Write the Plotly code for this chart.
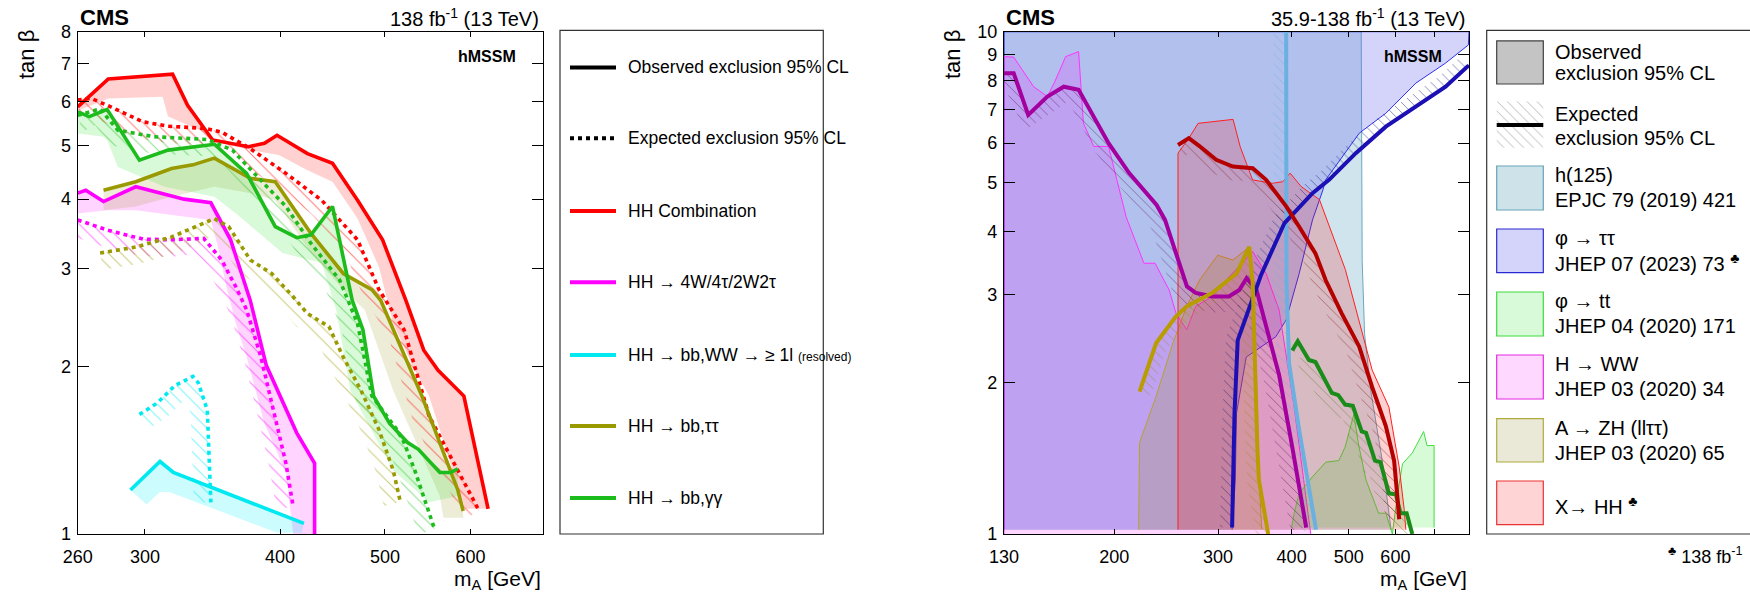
import numpy as np
import plotly.graph_objects as go

W, H = 1750, 594

# ============ LEFT PANEL DATA (HH channels, hMSSM) ============
hh_comb_obs_x = [260, 277.5, 318.2, 328.5, 346.5, 373.9, 386.9, 397.4, 424, 447.2, 471.7, 497.5, 522.8, 543.1, 559.9, 591.5, 622.8]
hh_comb_obs_y = [5.86, 6.58, 6.71, 5.90, 5.11, 4.97, 5.04, 5.21, 4.83, 4.64, 3.98, 3.38, 2.63, 2.14, 1.97, 1.77, 1.11]
hh_comb_band_x = [260, 277.5, 311.5, 315.1, 337.4, 353.2, 375.4, 398.9, 424, 447.2, 471.7, 493.7, 509, 532.9, 549.3, 592.9]
hh_comb_band_y = [5.77, 6.07, 6.11, 5.63, 5.32, 5.04, 4.90, 4.80, 4.51, 4.30, 3.69, 3.02, 2.39, 1.97, 1.77, 1.11]
hh_comb_exp_x = [260, 267.5, 276.8, 298.7, 315.1, 341.3, 353.2, 375.4, 405, 437.1, 471.7, 493.7, 520.8, 549.3, 592.9, 611.1]
hh_comb_exp_y = [6.03, 6.07, 5.90, 5.51, 5.41, 5.36, 5.28, 4.93, 4.45, 3.98, 3.38, 2.75, 2.33, 1.63, 1.23, 1.10]

multi_obs_x = [260, 264.5, 274.7, 294.2, 326.1, 345.2, 360, 375.4, 388.4, 414.4, 430.5, 430.5]
multi_obs_y = [4.10, 4.15, 3.96, 4.21, 4.00, 3.94, 3.38, 2.63, 2.01, 1.52, 1.34, 1.0]
multi_band_x = [260, 276.8, 294.2, 345.2, 350.2, 357.3, 364.1, 372.5, 386.9, 405, 411.3]
multi_band_y = [3.77, 3.82, 3.82, 3.67, 3.30, 2.75, 2.39, 2.08, 1.58, 1.29, 1.0]
multi_exp_x = [260, 276.8, 298.7, 317.5, 340, 353.2, 364.1, 372.5, 384, 395.9, 405, 411.3]
multi_exp_y = [3.67, 3.52, 3.39, 3.38, 3.40, 3.11, 2.78, 2.53, 2.08, 1.63, 1.34, 1.12]

bbww_obs_x = [290.9, 309.8, 318.7, 420.8]
bbww_obs_y = [1.20, 1.35, 1.29, 1.045]
bbww_band_x = [290.9, 301, 309.8, 316, 397.5, 419]
bbww_band_y = [1.20, 1.13, 1.19, 1.19, 1.005, 1.005]
bbww_exp_x = [296.5, 308, 319.9, 332.3, 336.1, 342.6, 345.2]
bbww_exp_y = [1.64, 1.72, 1.85, 1.92, 1.87, 1.67, 1.14]

bbtt_obs_x = [274.7, 294.2, 317.5, 332.3, 347.8, 375.4, 395.9, 427.2, 457.6, 486.3, 495.6, 541, 583.9, 590.6]
bbtt_obs_y = [4.15, 4.30, 4.54, 4.61, 4.74, 4.36, 4.30, 3.47, 2.94, 2.75, 2.63, 1.77, 1.20, 1.10]
bbtt_band_x = [274.7, 294.2, 317.5, 347.8, 375.4, 395.9, 427.2, 457.6, 478.9, 509, 562, 566.3, 590.6]
bbtt_band_y = [3.82, 3.88, 4.04, 4.21, 4.10, 3.98, 3.20, 2.75, 2.53, 1.81, 1.17, 1.07, 1.07]
bbtt_exp_x = [272.7, 294.2, 317.5, 333.6, 347.8, 358.6, 375.4, 392.9, 411.3, 424, 443.8, 457.6, 475.3, 493.7, 509, 516.8]
bbtt_exp_y = [3.20, 3.28, 3.42, 3.57, 3.69, 3.57, 3.11, 2.94, 2.67, 2.49, 2.36, 2.08, 1.81, 1.54, 1.30, 1.14]

bbgg_obs_x = [260, 266.5, 276.8, 296.5, 315.1, 347.8, 372.5, 395.9, 414.4, 427.2, 447.2, 466.4, 477.1, 488.1, 505, 524.8, 536.9, 562, 575, 583.9]
bbgg_obs_y = [5.74, 5.63, 5.80, 4.70, 4.90, 5.02, 4.45, 3.57, 3.41, 3.45, 3.88, 2.63, 2.33, 1.77, 1.58, 1.46, 1.42, 1.29, 1.29, 1.31]
bbgg_band_x = [260, 274.7, 276.8, 283.2, 312.7, 347.8, 364.1, 402, 437.1, 450.7, 464.6, 509, 549.3, 583.9]
bbgg_band_y = [5.25, 5.18, 5.11, 4.57, 4.21, 4.04, 3.77, 3.20, 3.07, 2.53, 1.81, 1.30, 1.14, 1.17]
bbgg_exp_x = [260, 272.7, 283.2, 305.6, 342.6, 361.4, 381.1, 405, 427.2, 454.1, 471.7, 486.3, 513, 520.8, 532.9, 545.3, 555.8]
bbgg_exp_y = [5.66, 5.81, 5.32, 5.18, 5.12, 4.90, 4.39, 3.88, 3.33, 2.86, 2.39, 1.77, 1.54, 1.46, 1.30, 1.14, 1.02]

# ============ RIGHT PANEL DATA (summary) ============
h125_obs_x = [130, 130, 525, 527, 532, 545, 570, 590]
h125_obs_y = [1.02, 10, 10, 3.5, 2.5, 1.93, 1.4, 1.02]
h125_exp_x = [391.6, 392, 396, 412, 440]
h125_exp_y = [10, 3.2, 2.19, 1.61, 1.02]

phitt_tau_obs_x = [130, 130, 800, 800, 798, 730, 650, 578, 521, 457, 452, 434, 412, 391.6, 376, 335, 322.5, 321, 317]
phitt_tau_obs_y = [1.02, 10, 10, 9.5, 9.41, 8.66, 7.9, 6.88, 6.28, 5.07, 4.84, 4.22, 3.30, 2.67, 2.47, 2.25, 1.74, 1.28, 1.02]
phitt_tau_exp_x = [317, 320, 324, 337, 355, 389, 434, 463, 514, 578, 650, 730, 795, 800]
phitt_tau_exp_y = [1.03, 1.74, 2.43, 2.75, 3.28, 4.16, 4.77, 5.07, 5.73, 6.47, 7.09, 7.77, 8.52, 8.56]

hww_obs_x = [130, 130, 135, 146, 154, 158.6, 165.4, 174, 177.3, 184.6, 195.6, 209.5, 224.6, 234.6, 247.9, 254.6, 265.5, 275, 293.5, 313, 330, 343.6, 362, 381, 404, 431]
hww_obs_y = [1.0, 8.92, 8.9, 7.77, 7.43, 7.96, 8.92, 9.13, 6.58, 5.91, 5.91, 4.28, 3.46, 3.46, 3.06, 2.75, 2.55, 2.84, 2.97, 3.25, 3.46, 3.65, 3.30, 2.79, 1.79, 1.0]
hww_exp_x = [130, 135, 142.9, 154, 164.2, 174, 195.6, 212, 236, 243.9, 265.7, 275, 293.5, 313, 326, 335.5, 348.7, 362, 381, 401, 423.5]
hww_exp_y = [8.27, 8.27, 6.83, 7.43, 7.77, 7.66, 6.0, 5.23, 4.52, 4.22, 3.11, 3.02, 2.97, 2.97, 3.06, 3.23, 3.06, 2.59, 2.07, 1.49, 1.03]

azh_obs_x = [220, 220.8, 235.6, 251.5, 265.5, 279, 299.7, 318, 339, 343.6, 350, 356]
azh_obs_y = [1.02, 1.52, 1.88, 2.40, 2.84, 3.20, 3.59, 3.51, 3.73, 3.15, 1.47, 1.02]
azh_exp_x = [220.8, 235.6, 254.4, 265.5, 293.5, 322.5, 339, 343.6, 350, 352, 365]
azh_exp_y = [1.92, 2.40, 2.71, 2.84, 3.02, 3.30, 3.73, 3.15, 1.47, 1.28, 1.0]

phitop_obs_x = [400, 404, 412, 434, 457, 481, 493, 510, 520, 535, 562, 578, 593, 605, 617, 641, 670, 679, 698, 698]
phitop_obs_y = [1.03, 1.10, 1.205, 1.30, 1.39, 1.40, 1.49, 1.73, 1.50, 1.28, 1.10, 1.10, 1.0, 1.2, 1.38, 1.45, 1.60, 1.50, 1.50, 1.03]
phitop_exp_x = [401, 409.7, 428, 439, 468, 480, 493, 508, 526, 535, 554, 566, 585, 601, 612, 627, 641]
phitop_exp_y = [2.32, 2.42, 2.22, 2.20, 1.91, 1.89, 1.81, 1.80, 1.60, 1.59, 1.40, 1.39, 1.205, 1.20, 1.10, 1.10, 1.0]

xhh_obs_x = [256.6, 256.6, 267.7, 277.6, 318.2, 327.2, 343.4, 370.8, 386.7, 397.6, 415, 446, 493.5, 517, 548, 585, 609, 621, 625]
xhh_obs_y = [1.02, 5.73, 6.14, 6.57, 6.69, 5.90, 5.07, 4.99, 5.03, 5.23, 4.92, 4.63, 3.36, 2.75, 2.12, 1.79, 1.36, 1.12, 1.02]
xhh_exp_x = [256.6, 267.7, 279, 297.9, 318, 343.6, 362, 391.6, 412, 439, 457, 486.4, 521, 548, 578, 597, 604, 609]
xhh_exp_y = [5.95, 6.14, 5.92, 5.56, 5.39, 5.35, 5.07, 4.49, 4.09, 3.62, 3.20, 2.75, 2.36, 1.96, 1.64, 1.40, 1.205, 1.07]

# tick labels
left_xticks = [260, 300, 400, 500, 600]
left_yticks = [1, 2, 3, 4, 5, 6, 7, 8]
right_xticks = [130, 200, 300, 400, 500, 600, 700]
right_xticklabels = ["130", "200", "300", "400", "500", "600", " "]
right_yticks = [1, 2, 3, 4, 5, 6, 7, 8, 9, 10]

# ============ GEOMETRY (pixels) ============
L_X0, L_X1 = 77.7, 543.0
R_X0, R_X1 = 1004.0, 1469.0
PY_TOP, PY_BOT = 31.7, 534.0
L_XR, L_YR = (260, 700), (1, 8)
R_XR, R_YR = (130, 800), (1, 10)
kxL = (L_X1 - L_X0) / np.log(L_XR[1] / L_XR[0])
kyL = (PY_BOT - PY_TOP) / np.log(L_YR[1] / L_YR[0])
kxR = (R_X1 - R_X0) / np.log(R_XR[1] / R_XR[0])
kyR = (PY_BOT - PY_TOP) / np.log(R_YR[1] / R_YR[0])

FONT = "Liberation Sans, Arial, Helvetica, sans-serif"


def hatch_poly(xs, ys, kx, ky, d, side):
    xs = np.asarray(xs, float)
    ys = np.asarray(ys, float)
    u = kx * np.log(xs)
    v = ky * np.log(ys)
    n = len(u)
    nu = np.zeros(n)
    nv = np.zeros(n)
    for i in range(n):
        ax = ay = 0.0
        for a, b in ((i - 1, i), (i, i + 1)):
            if a < 0 or b >= n:
                continue
            du, dv = u[b] - u[a], v[b] - v[a]
            ln = np.hypot(du, dv)
            if ln == 0:
                continue
            ax += side * (-dv) / ln
            ay += side * du / ln
        m = np.hypot(ax, ay) or 1.0
        nu[i], nv[i] = ax / m, ay / m
    x2 = np.exp((u + d * nu) / kx)
    y2 = np.exp((v + d * nv) / ky)
    return list(xs) + list(x2[::-1]), list(ys) + list(y2[::-1])


fig = go.Figure()


def add_fill(xs, ys, color, xa, ya, line=None):
    fig.add_trace(go.Scatter(x=xs, y=ys, mode="lines", fill="toself", fillcolor=color,
                             line=dict(width=line[1] if line else 0, color=line[0] if line else "rgba(0,0,0,0)"),
                             hoverinfo="skip", xaxis=xa, yaxis=ya))


def add_hatch(xs, ys, kx, ky, d, side, color, xa, ya, size=8, sol=0.13):
    px_, py_ = hatch_poly(xs, ys, kx, ky, d, side)
    fig.add_trace(go.Scatter(x=px_, y=py_, mode="lines", fill="toself", fillcolor="rgba(0,0,0,0)",
                             line=dict(width=0, color="rgba(0,0,0,0)"),
                             fillpattern=dict(shape="\\", fgcolor=color, bgcolor="rgba(0,0,0,0)", size=size, solidity=sol),
                             hoverinfo="skip", xaxis=xa, yaxis=ya))


def add_line(xs, ys, color, width, xa, ya, dash="solid"):
    fig.add_trace(go.Scatter(x=xs, y=ys, mode="lines", line=dict(color=color, width=width, dash=dash),
                             hoverinfo="skip", xaxis=xa, yaxis=ya))


# ---------------- LEFT PANEL ----------------
left = [
    (hh_comb_obs_x, hh_comb_obs_y, hh_comb_band_x, hh_comb_band_y, hh_comb_exp_x, hh_comb_exp_y, "#ff0000", "rgba(255,0,0,0.18)"),
    (multi_obs_x, multi_obs_y, multi_band_x, multi_band_y, multi_exp_x, multi_exp_y, "#ff00ff", "rgba(255,0,255,0.17)"),
    (bbww_obs_x, bbww_obs_y, bbww_band_x, bbww_band_y, bbww_exp_x, bbww_exp_y, "#00e8f0", "rgba(0,240,250,0.2)"),
    (bbtt_obs_x, bbtt_obs_y, bbtt_band_x, bbtt_band_y, bbtt_exp_x, bbtt_exp_y, "#999900", "rgba(150,140,20,0.17)"),
    (bbgg_obs_x, bbgg_obs_y, bbgg_band_x, bbgg_band_y, bbgg_exp_x, bbgg_exp_y, "#1cbc1c", "rgba(0,220,0,0.15)"),
]
for ox, oy, bx, by, ex, ey, lc, bc in left:
    add_fill(list(ox) + list(bx[::-1]), list(oy) + list(by[::-1]), bc, "x", "y")
for ox, oy, bx, by, ex, ey, lc, bc in left:
    add_hatch(ex, ey, kxL, kyL, 17, -1, lc, "x", "y", size=9, sol=0.12)
for ox, oy, bx, by, ex, ey, lc, bc in left:
    add_line(ex, ey, lc, 3.6, "x", "y", dash="4px,4px")
    add_line(ox, oy, lc, 3.6, "x", "y")

# ---------------- RIGHT PANEL ----------------
add_fill(h125_obs_x, h125_obs_y, "rgba(150,196,214,0.45)", "x2", "y2", ("#6aa8c0", 1))
add_fill(phitt_tau_obs_x, phitt_tau_obs_y, "rgba(100,100,240,0.28)", "x2", "y2", ("#3030ee", 1))
add_fill(hww_obs_x, hww_obs_y, "rgba(255,0,255,0.16)", "x2", "y2", ("#ff33ff", 1))
add_fill(azh_obs_x, azh_obs_y, "rgba(160,150,40,0.22)", "x2", "y2", ("#b8a030", 1))
add_fill(phitop_obs_x, phitop_obs_y, "rgba(0,230,0,0.16)", "x2", "y2", ("#44dd44", 1))
add_fill(xhh_obs_x, xhh_obs_y, "rgba(255,0,0,0.18)", "x2", "y2", ("#ff2020", 1))

right_exp = [
    (h125_exp_x, h125_exp_y, -1, "#6ab0e0", "#6ab0e0", 13),
    (hww_exp_x, hww_exp_y, -1, "#a3009f", "#5a2060", 16),
    (phitt_tau_exp_x, phitt_tau_exp_y, +1, "#1c0fb4", "#1a1a70", 12),
    (azh_exp_x, azh_exp_y, -1, "#b89c00", "#9a8a10", 12),
    (phitop_exp_x, phitop_exp_y, -1, "#1a8c1a", "#607a30", 16),
    (xhh_exp_x, xhh_exp_y, -1, "#b50000", "#802020", 14),
]
for ex, ey, side, lc, hc, d in right_exp:
    add_hatch(ex, ey, kxR, kyR, d, side, hc, "x2", "y2", size=7, sol=0.14)
for ex, ey, side, lc, hc, d in right_exp:
    add_line(ex, ey, lc, 4, "x2", "y2")

# ---------------- legend (pixel overlay axis) ----------------
hb_x = [1496.7, 1543.3, 1543.3, 1496.7, 1496.7]
hb_y = [101.5, 101.5, 147.7, 147.7, 101.5]
fig.add_trace(go.Scatter(x=hb_x, y=hb_y, mode="lines", fill="toself", fillcolor="rgba(0,0,0,0)",
                         line=dict(width=0, color="rgba(0,0,0,0)"),
                         fillpattern=dict(shape="\\", fgcolor="#707070", bgcolor="rgba(0,0,0,0)", size=7, solidity=0.14),
                         hoverinfo="skip", xaxis="x3", yaxis="y3"))
fig.add_trace(go.Scatter(x=[1496.7, 1543.3], y=[125, 125], mode="lines", line=dict(color="black", width=4),
                         hoverinfo="skip", xaxis="x3", yaxis="y3"))


def P(px, py):
    return px / W, 1 - py / H


shapes = []
annotations = []


def text(px, py, s, size, anchor="left", bold=False, vanchor="middle", angle=0):
    x, y = P(px, py)
    annotations.append(dict(x=x, y=y, xref="paper", yref="paper", text=("<b>%s</b>" % s) if bold else s,
                            showarrow=False, xanchor=anchor, yanchor=vanchor, textangle=angle,
                            font=dict(family=FONT, size=size, color="black")))


def rect(x0, y0, x1, y1, line_color, fill, lw=1):
    a0, b0 = P(x0, y0)
    a1, b1 = P(x1, y1)
    shapes.append(dict(type="rect", xref="paper", yref="paper", x0=a0, y0=b1, x1=a1, y1=b0,
                       line=dict(color=line_color, width=lw), fillcolor=fill, layer="above"))


def hline(x0, x1, yy, color, width, dash="solid"):
    a0, b = P(x0, yy)
    a1, _ = P(x1, yy)
    shapes.append(dict(type="line", xref="paper", yref="paper", x0=a0, y0=b, x1=a1, y1=b,
                       line=dict(color=color, width=width, dash=dash), layer="above"))


# left legend
rect(560, 30.3, 823.3, 534, "#333333", "rgba(0,0,0,0)", 1.2)
left_leg = [
    ("Observed exclusion 95% CL", "black", "solid"),
    ("Expected exclusion 95% CL", "black", "4px,4px"),
    ("HH Combination", "#ff0000", "solid"),
    ("HH \u2192 4W/4\u03c4/2W2\u03c4", "#ff00ff", "solid"),
    ("HH \u2192 bb,WW \u2192 \u2265 1l <span style='font-size:12px'>(resolved)</span>", "#00e8f0", "solid"),
    ("HH \u2192 bb,\u03c4\u03c4", "#999900", "solid"),
    ("HH \u2192 bb,\u03b3\u03b3", "#1cbc1c", "solid"),
]
left_leg_y = [67.4, 138.3, 211, 282.2, 355, 426, 498]
for (lab, col, dsh), yy in zip(left_leg, left_leg_y):
    hline(570, 616, yy, col, 4, dsh)
    text(626, yy, lab, 17.5)

# right legend
rect(1486.7, 30.3, 1752, 534, "#333333", "rgba(0,0,0,0)", 1.2)
rect(1496.7, 40.9, 1543.3, 84, "#404040", "rgb(196,196,196)", 1.2)
text(1553, 52, "Observed", 20)
text(1553, 73, "exclusion 95% CL", 20)
text(1553, 113.6, "Expected", 20)
text(1553, 138.3, "exclusion 95% CL", 20)
right_leg = [
    (166, 210, "rgb(100,165,185)", "rgb(206,226,233)", "h(125)", "EPJC 79 (2019) 421"),
    (229, 272.7, "rgb(40,40,210)", "rgb(212,212,250)", "\u03c6 \u2192 \u03c4\u03c4", "JHEP 07 (2023) 73 <sup>\u2663</sup>"),
    (292, 336, "rgb(60,220,60)", "rgb(216,250,216)", "\u03c6 \u2192 tt", "JHEP 04 (2020) 171"),
    (355, 399, "rgb(230,40,230)", "rgb(255,216,255)", "H \u2192 WW", "JHEP 03 (2020) 34"),
    (418.6, 462, "rgb(175,170,60)", "rgb(234,233,216)", "A \u2192 ZH (ll\u03c4\u03c4)", "JHEP 03 (2020) 65"),
]
for y0, y1, lc, fc, t1, t2 in right_leg:
    rect(1496.7, y0, 1543.3, y1, lc, fc, 1.2)
    text(1553, y0 + 9, t1, 20)
    text(1553, y0 + 34, t2, 20)
rect(1496.7, 481, 1543.3, 524.6, "rgb(235,50,50)", "rgb(255,212,212)", 1.2)
text(1553, 505.7, "X\u2192 HH <sup>\u2663</sup>", 20)
text(1666, 555, "<sup>\u2663</sup> 138 fb<sup>-1</sup>", 18)

# titles
for x0p, x1p, lumi in ((L_X0, L_X1, "138 fb<sup>-1</sup> (13 TeV)"), (R_X0, R_X1, "35.9-138 fb<sup>-1</sup> (13 TeV)")):
    text(x0p, 17, "CMS", 22, bold=True)
    text(x1p - 2, 18, lumi, 20, anchor="right")
    text(x1p - 25, 56, "hMSSM", 16, anchor="right", bold=True)
    text(x1p, 580, "m<sub>A</sub> [GeV]", 21, anchor="right")
text(27, 55, "tan \u03b2", 22, anchor="center", angle=-90)
text(953, 55, "tan \u03b2", 22, anchor="center", angle=-90)

axis_common = dict(showline=True, linecolor="black", linewidth=1.4, mirror="ticks", ticks="inside",
                   tickcolor="black", tickwidth=1.3, showgrid=False, zeroline=False, type="log",
                   tickfont=dict(family=FONT, size=18, color="black"), fixedrange=True, automargin=False)

ydom = [1 - PY_BOT / H, 1 - PY_TOP / H]
fig.update_layout(
    width=W, height=H, margin=dict(l=0, r=0, t=0, b=0), showlegend=False,
    paper_bgcolor="white", plot_bgcolor="rgba(0,0,0,0)",
    xaxis=dict(axis_common, domain=[L_X0 / W, L_X1 / W], range=[np.log10(L_XR[0]), np.log10(L_XR[1])],
               tickvals=left_xticks, ticktext=[str(v) for v in left_xticks], ticklen=5, anchor="y",
               ticklabelstandoff=6),
    yaxis=dict(axis_common, domain=ydom, range=[np.log10(L_YR[0]), np.log10(L_YR[1])],
               tickvals=left_yticks, ticktext=[str(v) for v in left_yticks], ticklen=11, anchor="x",
               ticklabelstandoff=2),
    xaxis2=dict(axis_common, domain=[R_X0 / W, R_X1 / W], range=[np.log10(R_XR[0]), np.log10(R_XR[1])],
                tickvals=right_xticks, ticktext=right_xticklabels, ticklen=5, anchor="y2",
                ticklabelstandoff=6),
    yaxis2=dict(axis_common, domain=ydom, range=[np.log10(R_YR[0]), np.log10(R_YR[1])],
                tickvals=right_yticks, ticktext=[str(v) for v in right_yticks], ticklen=11, anchor="x2",
                ticklabelstandoff=2),
    xaxis3=dict(domain=[0, 1], range=[0, W], visible=False, fixedrange=True, anchor="y3"),
    yaxis3=dict(domain=[0, 1], range=[H, 0], visible=False, fixedrange=True, anchor="x3"),
    shapes=shapes, annotations=annotations,
)

fig.write_html("out.html")
